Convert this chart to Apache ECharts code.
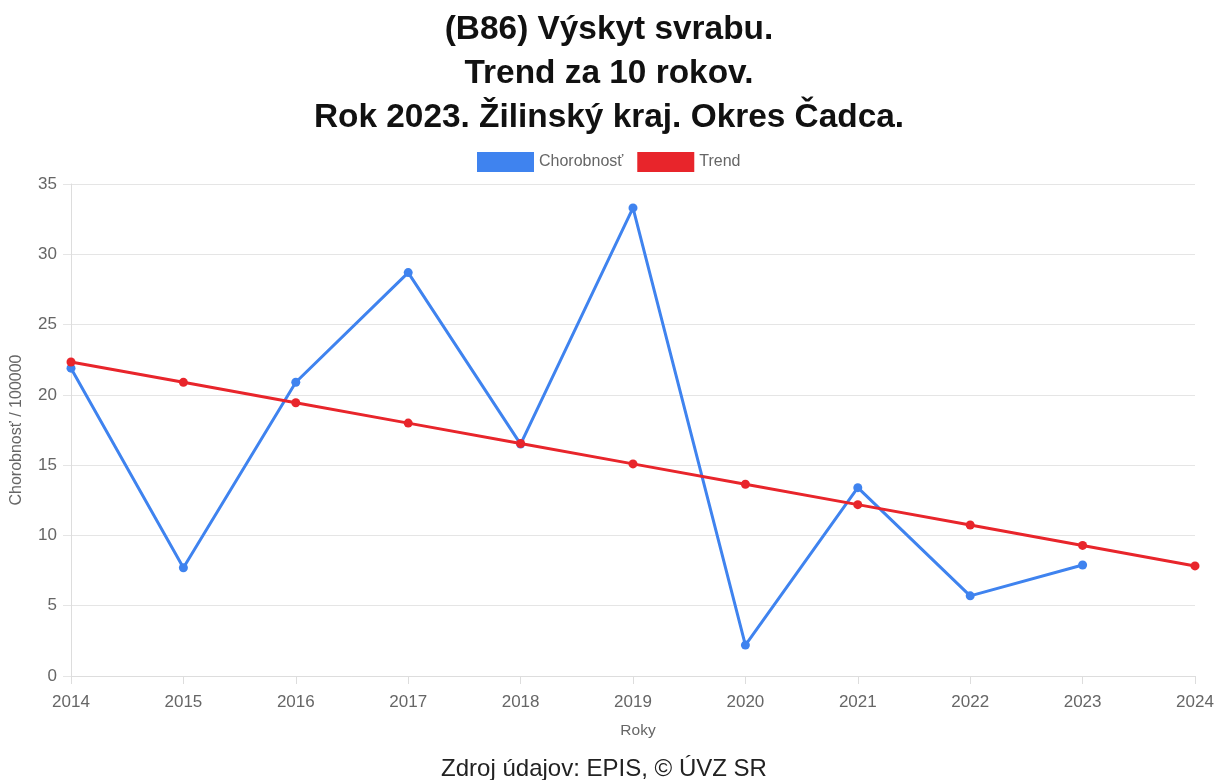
<!DOCTYPE html>
<html>
<head>
<meta charset="utf-8">
<script src="https://cdn.jsdelivr.net/npm/echarts@6/dist/echarts.min.js"></script>
<style>
html,body{margin:0;padding:0;background:#fff;}
#c{width:1218px;height:780px;}
</style>
</head>
<body>
<div id="c"></div>
<script>
const titleLines = ["(B86) Výskyt svrabu.", "Trend za 10 rokov.", "Rok 2023. Žilinský kraj. Okres Čadca."];
const years = ["2014","2015","2016","2017","2018","2019","2020","2021","2022","2023","2024"];
const chorobnost = [21.9, 7.7, 20.9, 28.7, 16.5, 33.3, 2.2, 13.4, 5.7, 7.9];
const trend = [22.34, 20.89, 19.44, 17.99, 16.54, 15.09, 13.64, 12.19, 10.74, 9.29, 7.83];
const seriesNames = ["Chorobnosť", "Trend"];
const yAxisName = "Chorobnosť / 100000";
const xAxisName = "Roky";
const sourceText = "Zdroj údajov: EPIS, © ÚVZ SR";

const chart = echarts.init(document.getElementById('c'), null, {renderer: 'canvas'});
const font = '"Liberation Sans", Arial, sans-serif';
const blue = '#3f83ef';
const red = '#e8252b';
chart.setOption({
  animation: false,
  textStyle: {fontFamily: font},
  title: [{
    text: titleLines.join('\n'),
    left: 'center', top: 3,
    textStyle: {fontSize: 33.4, fontWeight: 'bold', color: '#111', lineHeight: 44, fontFamily: font}
  }, {
    text: sourceText,
    left: 599, textAlign: 'center', top: 752,
    textStyle: {fontSize: 24, fontWeight: 'normal', color: '#222', fontFamily: font}
  }],
  legend: {
    top: 147, left: 472,
    itemWidth: 57, itemHeight: 20, itemGap: 14,
    icon: 'rect',
    textStyle: {fontSize: 16, color: '#666', fontFamily: font},
    data: seriesNames
  },
  grid: {left: 71, right: 23, top: 184, bottom: 104, containLabel: false},
  xAxis: {
    type: 'category', data: years, boundaryGap: false,
    name: xAxisName, nameLocation: 'middle', nameGap: 47,
    nameTextStyle: {fontSize: 15.5, color: '#666', padding: [0,0,0,10]},
    axisLine: {show: true, lineStyle: {color: '#ddd'}},
    axisTick: {show: true, length: 8, lineStyle: {color: '#ddd'}, alignWithLabel: true},
    axisLabel: {fontSize: 17, color: '#666', margin: 18},
    splitLine: {show: false}
  },
  yAxis: {
    type: 'value', min: 0, max: 35, interval: 5,
    name: yAxisName, nameLocation: 'middle', nameGap: 46,
    nameTextStyle: {fontSize: 16, color: '#666'},
    axisLine: {show: true, lineStyle: {color: '#ddd'}},
    axisTick: {show: true, length: 8, lineStyle: {color: '#e5e5e5'}},
    axisLabel: {fontSize: 17, color: '#666', margin: 14},
    splitLine: {show: true, lineStyle: {color: '#e5e5e5'}}
  },
  series: [{
    name: seriesNames[0], type: 'line', data: chorobnost,
    color: blue, symbol: 'circle', symbolSize: 9,
    lineStyle: {width: 3, color: blue}, itemStyle: {color: blue}, z: 2
  }, {
    name: seriesNames[1], type: 'line', data: trend,
    color: red, symbol: 'circle', symbolSize: 9,
    lineStyle: {width: 3, color: red}, itemStyle: {color: red}, z: 3
  }]
});
</script>
</body>
</html>
